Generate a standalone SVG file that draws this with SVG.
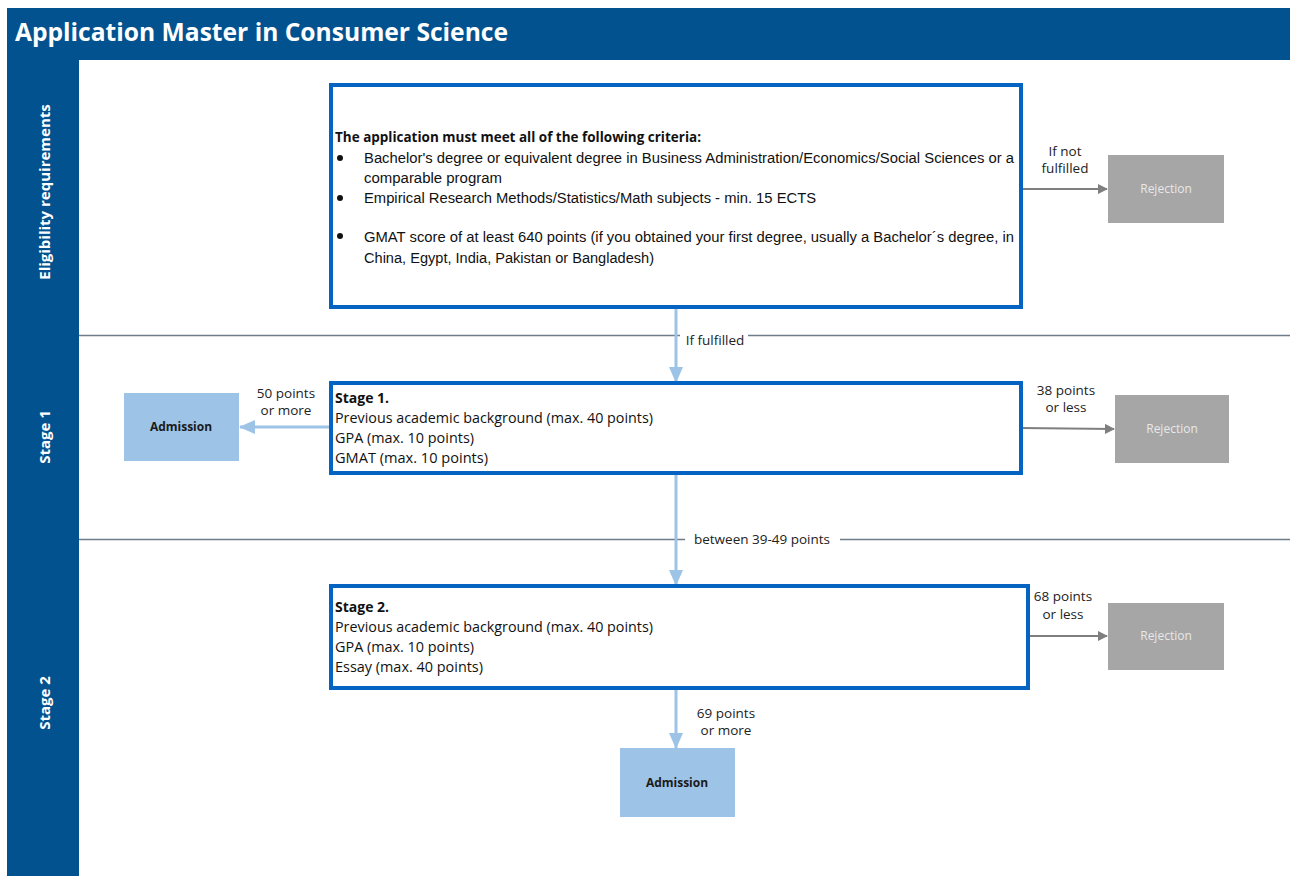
<svg xmlns="http://www.w3.org/2000/svg" width="1290" height="876" viewBox="0 0 1290 876">
<defs>
<style>
.band{fill:#02528f}
.lanetxt{fill:#ffffff;font-family:"Open Sans",sans-serif;font-weight:bold;font-size:15px;text-anchor:middle}
.sep{stroke:#6e7b88;stroke-width:1.3;fill:none}
.box{fill:#ffffff;stroke:#0563c1;stroke-width:4}
.rej{fill:#a6a6a6}
.rejtxt{fill:#e8e8e8;font-family:"Open Sans",sans-serif;font-size:12px;text-anchor:middle}
.adm{fill:#9dc3e6}
.admtxt{fill:#1a1a1a;font-family:"Open Sans",sans-serif;font-weight:bold;font-size:12px;text-anchor:middle}
.txt{fill:#111111;font-family:"Open Sans",sans-serif;font-size:14px}
.bold{font-weight:bold}
.narrow{fill:#111111;font-family:"Liberation Sans",sans-serif;font-size:14px}
.lbl{fill:#222222;font-family:"Open Sans",sans-serif;font-size:13.5px;text-anchor:middle}
.gray{stroke:#7f7f7f;stroke-width:2;fill:none}
.blue{stroke:#9dc3e6;stroke-width:3;fill:none}
</style>
<marker id="ag" markerWidth="10" markerHeight="10" refX="9" refY="5" orient="auto" markerUnits="userSpaceOnUse"><path d="M0,0 L10,5 L0,10 Z" fill="#7f7f7f"/></marker>
<marker id="ab" markerWidth="16" markerHeight="14" refX="15" refY="7" orient="auto" markerUnits="userSpaceOnUse"><path d="M0,0 L16,7 L0,14 Z" fill="#9dc3e6"/></marker>
</defs>
<rect width="1290" height="876" fill="#ffffff"/>
<g id="title">
<rect class="band" x="7" y="8" width="1283" height="52"/>
<text x="15" y="41" fill="#ffffff" font-family="'Open Sans',sans-serif" font-weight="bold" font-size="25" textLength="493" lengthAdjust="spacingAndGlyphs">Application Master in Consumer Science</text>
</g>
<g id="lanes">
<rect class="band" x="7" y="60" width="72" height="816"/>
<line class="sep" x1="79" y1="335.5" x2="1290" y2="335.5"/>
<line class="sep" x1="79" y1="539.5" x2="1290" y2="539.5"/>
<text class="lanetxt" transform="translate(50,192) rotate(-90)">Eligibility requirements</text>
<text class="lanetxt" transform="translate(50,437) rotate(-90)">Stage 1</text>
<text class="lanetxt" transform="translate(50,703) rotate(-90)">Stage 2</text>
</g>
<g id="connectors">
<line class="gray" x1="1021" y1="189" x2="1107" y2="189" marker-end="url(#ag)"/>
<line class="gray" x1="1021" y1="428" x2="1114" y2="429" marker-end="url(#ag)"/>
<line class="gray" x1="1028" y1="636" x2="1107" y2="636" marker-end="url(#ag)"/>
<line class="blue" x1="676" y1="307" x2="676" y2="382" marker-end="url(#ab)"/>
<line class="blue" x1="676" y1="473" x2="676" y2="585" marker-end="url(#ab)"/>
<line class="blue" x1="676" y1="688" x2="676" y2="748" marker-end="url(#ab)"/>
<line class="blue" x1="331" y1="427" x2="240" y2="427" marker-end="url(#ab)"/>
<rect x="680" y="333" width="68" height="6" fill="#ffffff"/>
<rect x="685" y="537" width="155" height="6" fill="#ffffff"/>
<text class="lbl" x="1065" y="156">If not</text>
<text class="lbl" x="1065" y="173">fulfilled</text>
<text class="lbl" x="715" y="345">If  fulfilled</text>
<text class="lbl" x="762" y="544">between 39-49 points</text>
<text class="lbl" x="286" y="398">50 points</text>
<text class="lbl" x="286" y="415">or more</text>
<text class="lbl" x="1066" y="395">38 points</text>
<text class="lbl" x="1066" y="412">or less</text>
<text class="lbl" x="1063" y="601">68 points</text>
<text class="lbl" x="1063" y="619">or less</text>
<text class="lbl" x="726" y="718">69 points</text>
<text class="lbl" x="726" y="735">or more</text>
</g>
<g id="eligibility">
<rect class="box" x="331" y="85" width="690" height="222"/>
<text class="txt bold" x="335" y="142" font-size="15" textLength="366" lengthAdjust="spacingAndGlyphs">The application must meet all of the following criteria:</text>
<circle cx="340" cy="158" r="3" fill="#111"/>
<circle cx="340" cy="198" r="3" fill="#111"/>
<circle cx="340" cy="236" r="3" fill="#111"/>
<text class="narrow" x="364" y="163" textLength="650" lengthAdjust="spacingAndGlyphs">Bachelor's degree or equivalent degree in Business Administration/Economics/Social Sciences or a</text>
<text class="narrow" x="364" y="183" textLength="138" lengthAdjust="spacingAndGlyphs">comparable program</text>
<text class="narrow" x="364" y="203" textLength="452" lengthAdjust="spacingAndGlyphs">Empirical Research Methods/Statistics/Math subjects - min. 15 ECTS</text>
<text class="narrow" x="364" y="242" textLength="650" lengthAdjust="spacingAndGlyphs">GMAT score of at least 640 points (if you obtained your first degree, usually a Bachelor´s degree, in</text>
<text class="narrow" x="364" y="263" textLength="290" lengthAdjust="spacingAndGlyphs">China, Egypt, India, Pakistan or Bangladesh)</text>
</g>
<g id="stage1">
<rect class="box" x="331" y="383" width="690" height="90"/>
<text class="txt bold" x="335" y="403">Stage 1.</text>
<text class="txt" x="335" y="423" textLength="318" lengthAdjust="spacingAndGlyphs">Previous academic background (max. 40 points)</text>
<text class="txt" x="335" y="443" textLength="139" lengthAdjust="spacingAndGlyphs">GPA (max. 10 points)</text>
<text class="txt" x="335" y="463" textLength="153" lengthAdjust="spacingAndGlyphs">GMAT (max. 10 points)</text>
</g>
<g id="stage2">
<rect class="box" x="331" y="586" width="697" height="102"/>
<text class="txt bold" x="335" y="612">Stage 2.</text>
<text class="txt" x="335" y="632" textLength="318" lengthAdjust="spacingAndGlyphs">Previous academic background (max. 40 points)</text>
<text class="txt" x="335" y="652" textLength="139" lengthAdjust="spacingAndGlyphs">GPA (max. 10 points)</text>
<text class="txt" x="335" y="672" textLength="148" lengthAdjust="spacingAndGlyphs">Essay (max. 40 points)</text>
</g>
<g id="rejection1"><rect class="rej" x="1108" y="155" width="116" height="68"/><text class="rejtxt" x="1166" y="193">Rejection</text></g>
<g id="rejection2"><rect class="rej" x="1115" y="395" width="114" height="68"/><text class="rejtxt" x="1172" y="433">Rejection</text></g>
<g id="rejection3"><rect class="rej" x="1108" y="603" width="116" height="67"/><text class="rejtxt" x="1166" y="640">Rejection</text></g>
<g id="admission1"><rect class="adm" x="124" y="393" width="115" height="68"/><text class="admtxt" x="181" y="431">Admission</text></g>
<g id="admission2"><rect class="adm" x="620" y="748" width="115" height="69"/><text class="admtxt" x="677" y="787">Admission</text></g>
</svg>
